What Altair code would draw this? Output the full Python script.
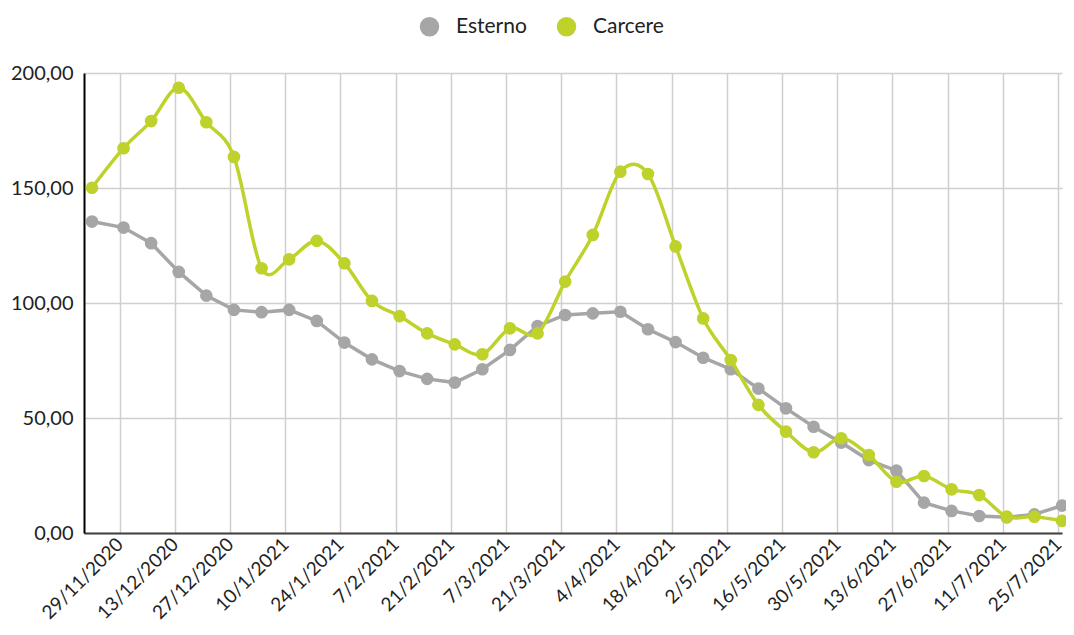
import altair as alt
import pandas as pd

dates = [
    "2020-11-22", "2020-11-30", "2020-12-07", "2020-12-14", "2020-12-21", "2020-12-28",
    "2021-01-04", "2021-01-11", "2021-01-18", "2021-01-25", "2021-02-01", "2021-02-08",
    "2021-02-15", "2021-02-22", "2021-03-01", "2021-03-08", "2021-03-15", "2021-03-22",
    "2021-03-29", "2021-04-05", "2021-04-12", "2021-04-19", "2021-04-26", "2021-05-03",
    "2021-05-10", "2021-05-17", "2021-05-24", "2021-05-31", "2021-06-07", "2021-06-14",
    "2021-06-21", "2021-06-28", "2021-07-05", "2021-07-12", "2021-07-19", "2021-07-26",
]
esterno = [
    135.4, 132.8, 126.0, 113.5, 103.2, 97.0,
    96.0, 97.0, 92.2, 82.8, 75.5, 70.4,
    67.0, 65.4, 71.2, 79.6, 90.0, 94.8,
    95.5, 96.2, 88.6, 83.0, 76.2, 71.2,
    62.8, 54.2, 46.2, 39.3, 31.7, 27.1,
    13.2, 9.6, 7.4, 6.8, 8.1, 11.9,
]
carcere = [
    150.1, 167.3, 179.1, 193.6, 178.6, 163.5,
    115.1, 119.0, 127.0, 117.3, 100.9, 94.3,
    86.8, 82.0, 77.7, 89.0, 86.8, 109.3,
    129.6, 157.1, 156.1, 124.6, 93.3, 75.2,
    55.7, 44.1, 35.1, 41.2, 33.9, 22.3,
    24.8, 19.0, 16.5, 7.1, 7.1, 5.3,
]
series = ["Esterno", "Carcere"]
colors = ["#A6A6A6", "#BFD22B"]
tick_dates = [
    (2020, 11, 29), (2020, 12, 13), (2020, 12, 27), (2021, 1, 10), (2021, 1, 24),
    (2021, 2, 7), (2021, 2, 21), (2021, 3, 7), (2021, 3, 21), (2021, 4, 4),
    (2021, 4, 18), (2021, 5, 2), (2021, 5, 16), (2021, 5, 30), (2021, 6, 13),
    (2021, 6, 27), (2021, 7, 11), (2021, 7, 25),
]
y_ticks = [0, 50, 100, 150, 200]

df = pd.DataFrame(
    {
        "date": dates * 2,
        "serie": ["Esterno"] * len(dates) + ["Carcere"] * len(dates),
        "value": esterno + carcere,
    }
)

FONT = "Lato"
TXT = "#222222"
GRID = "#CFCFCF"

x_enc = alt.X(
    "date:T",
    scale=alt.Scale(
        type="utc",
        domain=[
            alt.DateTime(year=2020, month=11, date=19, hours=23, minutes=18, utc=True),
            alt.DateTime(year=2021, month=7, date=26, hours=0, minutes=0, utc=True),
        ],
    ),
    axis=alt.Axis(
        values=[alt.DateTime(year=a, month=b, date=c, utc=True) for a, b, c in tick_dates],
        labelExpr="utcFormat(datum.value, '%-d/%-m/%Y')",
        labelAngle=-45,
        labelAlign="right",
        labelBaseline="middle",
        labelPadding=8,
        labelFont=FONT,
        labelFontSize=19,
        labelColor=TXT,
        labelOverlap=False,
        ticks=False,
        grid=True,
        gridColor=GRID,
        gridWidth=1.5,
        domainColor="#404040",
        domainWidth=2,
        title=None,
    ),
)
y_enc = alt.Y(
    "value:Q",
    scale=alt.Scale(domain=[0, 200], nice=False, zero=True),
    axis=alt.Axis(
        values=y_ticks,
        labelExpr="replace(format(datum.value, '.2f'), '.', ',')",
        labelFont=FONT,
        labelFontSize=20,
        labelColor=TXT,
        labelPadding=11,
        ticks=False,
        grid=True,
        gridColor=GRID,
        gridWidth=1.5,
        domainColor="#000000",
        domainWidth=2,
        title=None,
    ),
)

base = alt.Chart(df)

line_e = base.transform_filter(alt.datum.serie == "Esterno").mark_line(
    strokeWidth=3.5, color=colors[0]
).encode(x=x_enc, y=y_enc)

line_c = base.transform_filter(alt.datum.serie == "Carcere").mark_line(
    strokeWidth=3.5, color=colors[1], interpolate="cardinal"
).encode(x=x_enc, y=y_enc)

color_enc = alt.Color(
    "serie:N",
    scale=alt.Scale(domain=series, range=colors),
    legend=alt.Legend(
        title=None,
        orient="none",
        direction="horizontal",
        legendX=335,
        legendY=-57,
        symbolType="circle",
        symbolSize=380,
        symbolStrokeWidth=0,
        symbolOpacity=1,
        labelFont=FONT,
        labelFontSize=21,
        labelColor=TXT,
        labelOffset=16,
        columnPadding=29,
        padding=0,
    ),
)

pts_e = base.transform_filter(alt.datum.serie == "Esterno").mark_circle(
    size=160, opacity=1
).encode(x=x_enc, y=y_enc, color=color_enc)

pts_c = base.transform_filter(alt.datum.serie == "Carcere").mark_circle(
    size=160, opacity=1
).encode(x=x_enc, y=y_enc, color=color_enc)

chart = (
    alt.layer(line_e, pts_e, line_c, pts_c)
    .properties(
        width=978,
        height=460,
        autosize=alt.AutoSizeParams(type="none"),
        padding={"left": 76, "top": 65, "right": 4, "bottom": 94},
        background="white",
    )
    .configure_view(stroke=None)
)

chart.save("out.html", embed_options={"renderer": "svg", "actions": False})
